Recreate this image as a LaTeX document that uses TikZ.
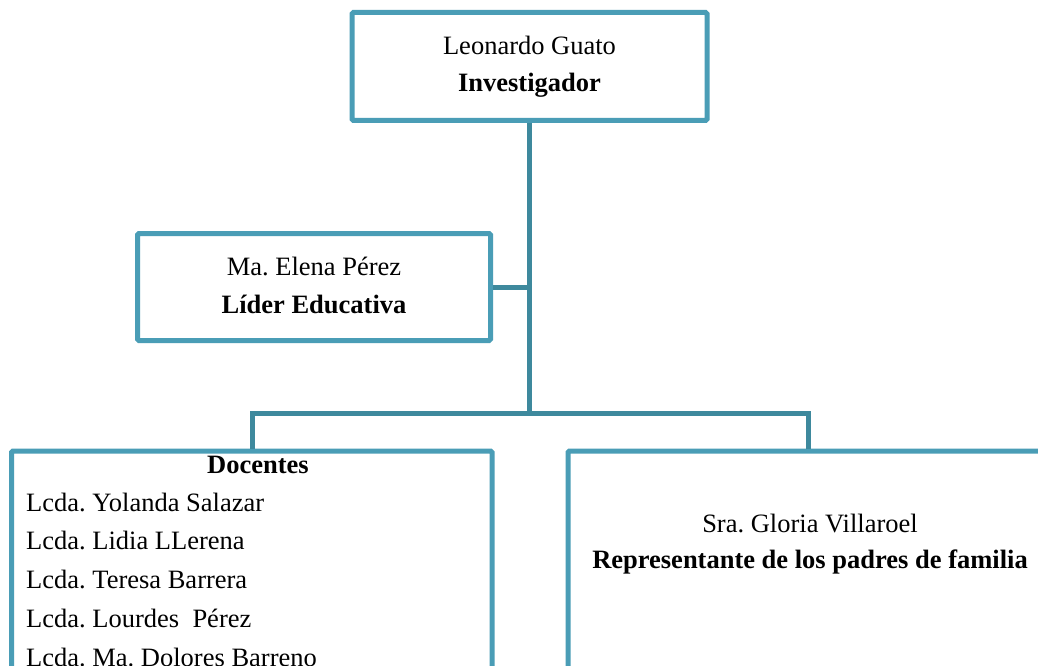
\documentclass[tikz,border=0pt]{standalone}
\usepackage{fontspec}
\setmainfont{Liberation Serif}
\frenchspacing
\definecolor{boxc}{RGB}{74,157,182}
\definecolor{linec}{RGB}{62,137,157}
\begin{document}
\begin{tikzpicture}[x=1pt,y=-1pt,
  box/.style={draw=boxc, line width=5pt, rounded corners=1.5pt, fill=white, inner sep=0pt},
  conn/.style={draw=linec, line width=5pt, line join=miter},
  txt/.style={anchor=base, font=\fontsize{26.5}{38}\selectfont, inner sep=0pt},
  ltxt/.style={txt, anchor=base west}]
\useasboundingbox (0,0) rectangle (1038,666);
\clip (0,0) rectangle (1038,666);
\fill[white] (0,0) rectangle (1038,666);
% junction coordinates
\coordinate (j) at (529.5,413);
\coordinate (bl) at (252,413);
\coordinate (br) at (808,413);
% boxes
\node[box, minimum width=355pt, minimum height=108pt] (top) at (529.5,66.5) {};
\node[box, minimum width=353pt, minimum height=107pt] (lider) at (314,287) {};
\node[box, minimum width=480.5pt, minimum height=349pt] (doc) at (251.75,625.5) {};
\node[box, minimum width=632pt, minimum height=349pt] (rep) at (884,625.5) {};
% connectors
\draw[conn] (top.south) -- (j);
\draw[conn] (lider.east) -- (lider.east -| j);
\draw[conn] (bl |- doc.north) -- (bl) -- (br) -- (br |- rep.north);
% texts
\node[txt] (t1) at (529.5,55) {Leonardo Guato};
\node[txt] (t2) at (529.5,92) {\bfseries Investigador};
\node[txt] (l1) at (314,275) {Ma. Elena Pérez};
\node[txt] (l2) at (314,313) {\bfseries Líder Educativa};
\node[txt] (d0) at (258,473) {\bfseries Docentes};
\node[ltxt] (d1) at (26,511) {Lcda. Yolanda Salazar};
\node[ltxt] (d2) at (26,549) {Lcda. Lidia LLerena};
\node[ltxt] (d3) at (26,588) {Lcda. Teresa Barrera};
\node[ltxt] (d4) at (26,627) {Lcda. Lourdes~~Pérez};
\node[ltxt] (d5) at (26,666) {Lcda. Ma. Dolores Barreno};
\node[txt] (r1) at (810,532) {Sra. Gloria Villaroel};
\node[txt] (r2) at (810,568) {\bfseries Representante de los padres de familia};
\end{tikzpicture}
\end{document}
